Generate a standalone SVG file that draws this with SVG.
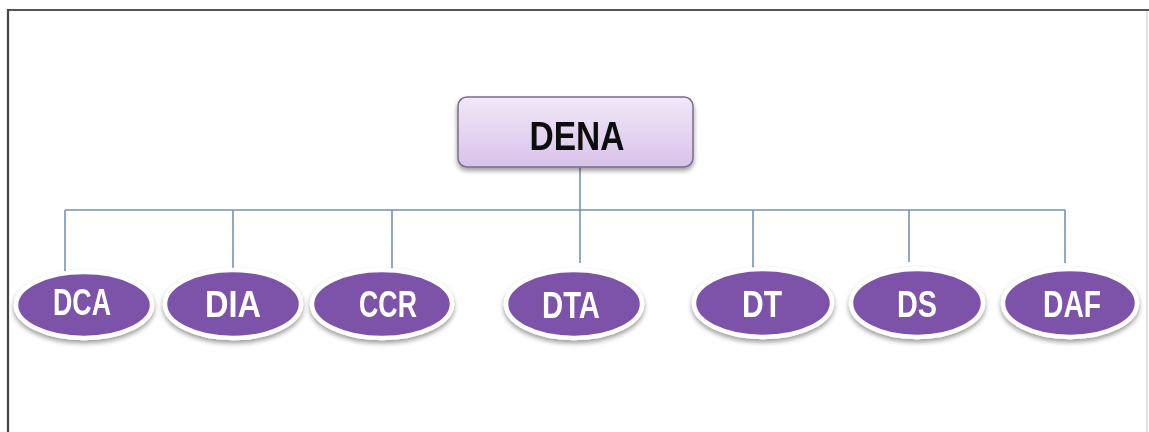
<svg xmlns="http://www.w3.org/2000/svg" width="1149" height="432" viewBox="0 0 1149 432">
<defs>
<linearGradient id="boxg" x1="0" y1="0" x2="0" y2="1">
<stop offset="0" stop-color="#f1e8f8"/>
<stop offset="1" stop-color="#d8c2ea"/>
</linearGradient>
<filter id="sh" x="-20%" y="-20%" width="140%" height="150%">
<feGaussianBlur in="SourceAlpha" stdDeviation="2.5"/>
<feOffset dx="0" dy="3" result="b"/>
<feComponentTransfer><feFuncA type="linear" slope="0.4"/></feComponentTransfer>
<feMerge><feMergeNode/><feMergeNode in="SourceGraphic"/></feMerge>
</filter>
</defs>
<style>
.conn{stroke:#7393b8;stroke-width:1.6;fill:none}
.ov{fill:#7b52a8;stroke:#ffffff;stroke-width:4.5}
.lbl{font-family:"Liberation Sans",Arial,sans-serif;font-weight:bold;font-size:37px;fill:#ffffff;text-anchor:middle}
.top{font-family:"Liberation Sans",Arial,sans-serif;font-weight:bold;font-size:41px;fill:#111111;text-anchor:middle}
</style>
<rect x="0" y="0" width="1149" height="432" fill="#ffffff"/>
<g id="frame">
<line x1="8" y1="10" x2="1149" y2="10" stroke="#555555" stroke-width="2.2"/>
<line x1="8" y1="9" x2="8" y2="432" stroke="#444444" stroke-width="2.2"/>
<line x1="1147" y1="11" x2="1147" y2="432" stroke="#d0d0d0" stroke-width="1.2"/>
</g>
<g id="connectors">
<path class="conn" d="M580 167 V263"/>
<path class="conn" d="M65 210 H1065"/>
<path class="conn" d="M65 210 V272"/>
<path class="conn" d="M233 210 V270"/>
<path class="conn" d="M392 210 V270"/>
<path class="conn" d="M753 210 V272"/>
<path class="conn" d="M909 210 V262"/>
<path class="conn" d="M1065 210 V263"/>
</g>
<g id="node-DENA" filter="url(#sh)">
<rect x="458" y="97" width="235" height="70" rx="9" fill="url(#boxg)" stroke="#7b6c8c" stroke-width="1.5"/>
<text class="top" x="577" y="150" textLength="95" lengthAdjust="spacingAndGlyphs">DENA</text>
</g>
<g id="node-DCA" filter="url(#sh)">
<ellipse class="ov" cx="84" cy="305" rx="68" ry="33"/>
<text class="lbl" x="82" y="315" textLength="58" lengthAdjust="spacingAndGlyphs">DCA</text>
</g>
<g id="node-DIA" filter="url(#sh)">
<ellipse class="ov" cx="233" cy="304" rx="68" ry="34"/>
<text class="lbl" x="233" y="317" textLength="56" lengthAdjust="spacingAndGlyphs">DIA</text>
</g>
<g id="node-CCR" filter="url(#sh)">
<ellipse class="ov" cx="382" cy="304" rx="70" ry="34"/>
<text class="lbl" x="388" y="317" textLength="58" lengthAdjust="spacingAndGlyphs">CCR</text>
</g>
<g id="node-DTA" filter="url(#sh)">
<ellipse class="ov" cx="574" cy="304" rx="68" ry="34"/>
<text class="lbl" x="571" y="318" textLength="58" lengthAdjust="spacingAndGlyphs">DTA</text>
</g>
<g id="node-DT" filter="url(#sh)">
<ellipse class="ov" cx="763" cy="303" rx="69" ry="34"/>
<text class="lbl" x="762" y="317" textLength="40" lengthAdjust="spacingAndGlyphs">DT</text>
</g>
<g id="node-DS" filter="url(#sh)">
<ellipse class="ov" cx="917" cy="303" rx="66" ry="34"/>
<text class="lbl" x="917" y="317" textLength="40" lengthAdjust="spacingAndGlyphs">DS</text>
</g>
<g id="node-DAF" filter="url(#sh)">
<ellipse class="ov" cx="1070" cy="303" rx="67" ry="34"/>
<text class="lbl" x="1072" y="317" textLength="58" lengthAdjust="spacingAndGlyphs">DAF</text>
</g>
</svg>
